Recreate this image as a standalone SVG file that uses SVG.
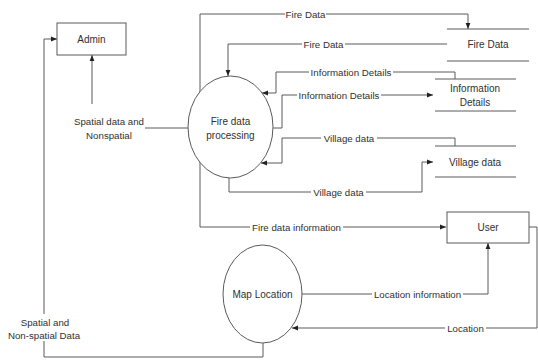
<svg xmlns="http://www.w3.org/2000/svg" width="538" height="360" viewBox="0 0 538 360">
  <style>
    .ln { fill: none; stroke: #5a5a5a; stroke-width: 1; }
    .shape { fill: #ffffff; stroke: #5a5a5a; stroke-width: 1; }
    .store { fill: none; stroke: #5a5a5a; stroke-width: 1; }
    text { font-family: "Liberation Sans", Arial, sans-serif; font-size: 9.7px; fill: #303030; text-anchor: middle; dominant-baseline: central; }
    .node text { font-size: 10px; }
  </style>
  <defs>
    <marker id="arrow" viewBox="0 0 6 6" refX="6" refY="3" markerWidth="6" markerHeight="6" markerUnits="userSpaceOnUse" orient="auto">
      <path d="M0,0.6 L6,3 L0,5.4 z" fill="#222"/>
    </marker>
  </defs>
  <rect width="538" height="360" fill="#ffffff"/>

  <g id="connectors">
    <!-- processing -> Fire Data store (top loop) -->
    <path class="ln" d="M200,227 V14 H285"/>
    <path class="ln" d="M326,14 H468 V29" marker-end="url(#arrow)"/>
    <text x="305.5" y="14">Fire Data</text>

    <!-- Fire Data store -> processing -->
    <path class="ln" d="M447,44 H345"/>
    <path class="ln" d="M302,44 H228 V76" marker-end="url(#arrow)"/>
    <text x="323.5" y="44">Fire Data</text>

    <!-- Information Details store -> processing -->
    <path class="ln" d="M455,79 V72 H393"/>
    <path class="ln" d="M309,72 H276 V93 H262" marker-end="url(#arrow)"/>
    <text x="351" y="72">Information Details</text>

    <!-- processing -> Information Details store -->
    <path class="ln" d="M273,128 H282 V95 H297"/>
    <path class="ln" d="M381,95 H433" marker-end="url(#arrow)"/>
    <text x="339" y="95">Information Details</text>

    <!-- Village data store -> processing -->
    <path class="ln" d="M455,146 V138 H377"/>
    <path class="ln" d="M321,138 H282 V163 H261" marker-end="url(#arrow)"/>
    <text x="349" y="138">Village data</text>

    <!-- processing -> Village data store -->
    <path class="ln" d="M229,178 V192 H311"/>
    <path class="ln" d="M366,192 H422 V162 H433" marker-end="url(#arrow)"/>
    <text x="338.5" y="192">Village data</text>

    <!-- processing -> User -->
    <path class="ln" d="M200,227 H250"/>
    <path class="ln" d="M343,227 H446" marker-end="url(#arrow)"/>
    <text x="296.5" y="227">Fire data information</text>

    <!-- User -> Map Location -->
    <path class="ln" d="M529,227 H537 V328 H486"/>
    <path class="ln" d="M445,328 H292" marker-end="url(#arrow)"/>
    <text x="465.5" y="328">Location</text>

    <!-- Map Location -> User -->
    <path class="ln" d="M302,294 H372"/>
    <path class="ln" d="M463,294 H488 V243" marker-end="url(#arrow)"/>
    <text x="417.5" y="294">Location information</text>

    <!-- processing -> Admin -->
    <path class="ln" d="M188,128 H145"/>
    <path class="ln" d="M92,104 V55" marker-end="url(#arrow)"/>
    <text x="109" y="121">Spatial data and</text>
    <text x="109" y="135">Nonspatial</text>

    <!-- Map Location -> Admin -->
    <path class="ln" d="M263,343 V357 H44 V341"/>
    <path class="ln" d="M44,314 V39 H57" marker-end="url(#arrow)"/>
    <text x="45" y="322">Spatial and</text>
    <text x="44" y="335">Non-spatial Data</text>
  </g>

  <g id="admin" class="node">
    <rect class="shape" x="57" y="23" width="69" height="32"/>
    <text x="91.5" y="39">Admin</text>
  </g>

  <g id="fire-data-processing" class="node">
    <ellipse class="shape" cx="230.5" cy="127" rx="42.5" ry="51"/>
    <text x="230.5" y="121">Fire data</text>
    <text x="230.5" y="135">processing</text>
  </g>

  <g id="fire-data-store" class="node">
    <line class="store" x1="447" y1="29" x2="529" y2="29"/>
    <line class="store" x1="447" y1="61" x2="529" y2="61"/>
    <text x="488" y="44">Fire Data</text>
  </g>

  <g id="information-details-store" class="node">
    <line class="store" x1="435" y1="79" x2="516" y2="79"/>
    <line class="store" x1="435" y1="111" x2="516" y2="111"/>
    <text x="475" y="88">Information</text>
    <text x="475" y="102">Details</text>
  </g>

  <g id="village-data-store" class="node">
    <line class="store" x1="435" y1="146" x2="516" y2="146"/>
    <line class="store" x1="435" y1="177" x2="516" y2="177"/>
    <text x="475" y="162">Village data</text>
  </g>

  <g id="user" class="node">
    <rect class="shape" x="447" y="212" width="82" height="31"/>
    <text x="488" y="227">User</text>
  </g>

  <g id="map-location" class="node">
    <ellipse class="shape" cx="262.5" cy="294" rx="39.5" ry="49"/>
    <text x="262.5" y="294">Map Location</text>
  </g>
</svg>
